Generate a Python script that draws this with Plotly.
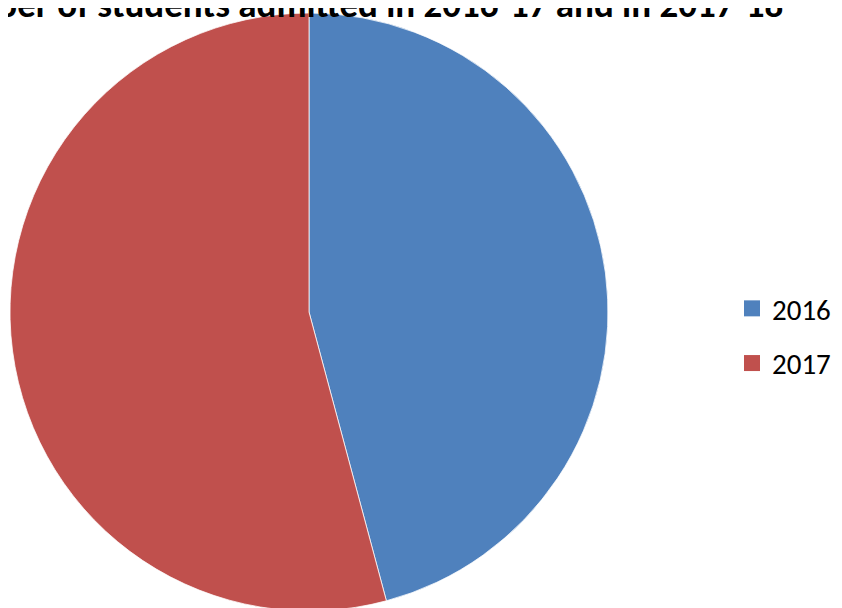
import plotly.graph_objects as go

labels = ["2016", "2017"]
values = [1100, 1300]
colors = ["#4F81BD", "#C0504D"]
title_text = "Number of students admitted in 2016-17 and in 2017-18"

W, H = 842, 608
FONT = "Carlito, Calibri, Lato, sans-serif"

fig = go.Figure()
fig.add_trace(go.Pie(
    labels=labels,
    values=values,
    sort=False,
    direction="clockwise",
    rotation=0,
    textinfo="none",
    hoverinfo="label+value+percent",
    showlegend=False,
    marker=dict(colors=colors, line=dict(color="white", width=0.75)),
    domain=dict(x=[2 / W, 600 / W], y=[5 / H, 1 - 5 / H]),
))

# legend entries (square swatches) for each slice
for lab, col in zip(labels, colors):
    fig.add_trace(go.Scatter(
        x=[None], y=[None], mode="markers", name=lab,
        legendgroup=lab, showlegend=True, hoverinfo="skip",
        marker=dict(symbol="square", size=16, color=col),
    ))

fig.add_annotation(
    text="<b>" + title_text + "</b>",
    xref="paper", yref="paper",
    x=777 / W, xanchor="right",
    y=1 + 4 / H, yanchor="middle",
    showarrow=False,
    font=dict(family=FONT, size=37, color="black"),
)

fig.update_layout(
    width=W, height=H,
    margin=dict(l=0, r=0, t=0, b=0, pad=0, autoexpand=False),
    paper_bgcolor="white",
    plot_bgcolor="white",
    xaxis=dict(visible=False),
    yaxis=dict(visible=False),
    showlegend=True,
    legend=dict(
        x=724 / W, xanchor="left",
        y=1 - 328 / H, yanchor="middle",
        font=dict(family=FONT, size=29, color="black"),
        bgcolor="rgba(0,0,0,0)",
        itemsizing="trace",
        tracegroupgap=14,
    ),
)

fig.write_html("out.html")
